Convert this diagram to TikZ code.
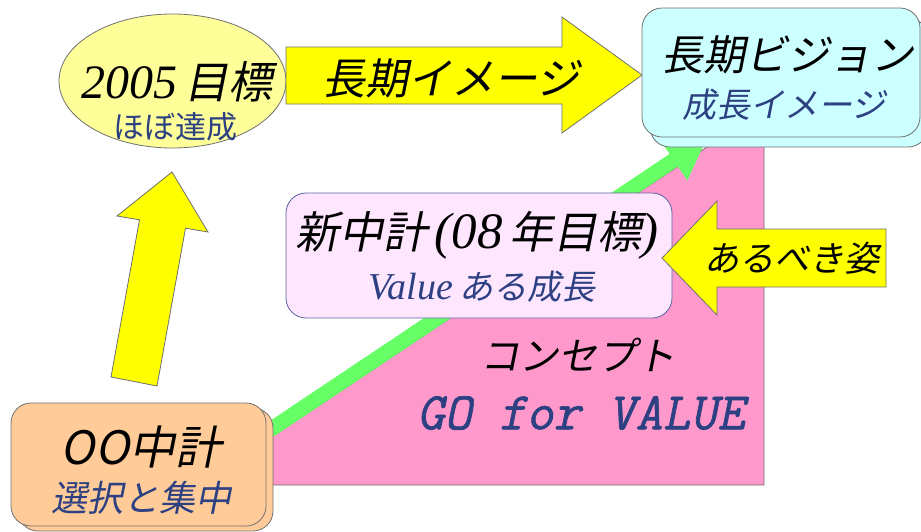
\documentclass[tikz,border=0pt]{standalone}
\usepackage{fontspec}
\usetikzlibrary{arrows.meta,shapes.geometric,shadows}
\newfontfamily\jpfont[FakeSlant=0.2]{Noto Sans CJK JP}
\newfontfamily\jpplain{Noto Sans CJK JP}
\newfontfamily\latinserif{Liberation Serif}
\newfontfamily\slogantt[FakeBold=1.2,FakeSlant=0.2]{Latin Modern Mono}
\definecolor{edgegray}{HTML}{707070}
\definecolor{deepblue}{RGB}{44,64,130}
\definecolor{planorange}{HTML}{FFCC99}
\definecolor{goalyellow}{HTML}{FFFF99}
\definecolor{arrowyellow}{HTML}{FFFF00}
\definecolor{visioncyan}{HTML}{CCFFFF}
\definecolor{midpink}{HTML}{FFE6FF}
\definecolor{midedge}{HTML}{5A64A0}
\definecolor{conceptpink}{HTML}{FF99CC}
\definecolor{growthgreen}{HTML}{66FF66}
\tikzset{
    %Define style for boxes
    planbox/.style={
           rectangle,
           rounded corners=20pt,
           draw=edgegray, line width=0.8pt,
           inner sep=0pt},
    goalnode/.style={
           ellipse,
           fill=goalyellow,
           draw=edgegray, line width=0.8pt,
           inner sep=0pt},
    % Define block arrows
    blockarrow/.style={
           fill=arrowyellow,
           draw=edgegray, line width=0.8pt},
    growtharrow/.style={
           draw=growthgreen,
           line width=15pt,
           -{Triangle[width=46pt,length=40pt]}},
    % Define text styles
    bigtext/.style={
           font=\jpfont\fontsize{42}{46}\selectfont,
           text=black, inner sep=0pt},
    subtext/.style={
           font=\jpfont\fontsize{34}{38}\selectfont,
           text=deepblue, inner sep=0pt}
}
\begin{document}
\begin{tikzpicture}[x=1pt,y=-1pt]
\useasboundingbox (0,0) rectangle (921,531);
 %concept area
\fill[conceptpink, draw=edgegray, line width=0.8pt] (200,485) -- (764,485) -- (764,109) -- cycle;
\coordinate (gstart) at (240,450);
\coordinate (gtip) at (707,138);
\draw[growtharrow] (gstart) -- (gtip);

 %nodes
\node[planbox, fill=midpink, draw=midedge, minimum width=386pt, minimum height=125pt] (mid) at (479,255.5) {};
\draw[blockarrow] (886,229) -- (717,229) -- (717,201) -- (662,258) -- (717,315) -- (717,287) -- (886,287) -- cycle;
\node[planbox, fill=planorange, minimum width=255pt, minimum height=123pt,
      copy shadow={shadow xshift=7pt, shadow yshift=-5pt}] (oo) at (138.5,464.5) {};
\draw[blockarrow] (111,377) -- (139.5,219.8) -- (117,216) -- (172,172) -- (208,232) -- (185.5,228.2) -- (157,386) -- cycle;
\node[goalnode, minimum width=227pt, minimum height=134pt] (goal) at (172.5,81) {};
\draw[blockarrow] (286,47) -- (562,47) -- (562,17) -- (642,75) -- (562,133) -- (562,104) -- (286,104) -- cycle;
\node[planbox, fill=visioncyan, minimum width=278pt, minimum height=129pt,
      copy shadow={shadow xshift=8pt, shadow yshift=-10pt}] (vision) at (781,72.5) {};

 %texts
\node[bigtext, font=\jpfont\fontsize{44}{48}\selectfont] (goaltitle) at (177,82) {{\latinserif\itshape\fontsize{48}{52}\selectfont 2005}\,目標};
\node[subtext, font=\jpplain\fontsize{31}{34}\selectfont] (goalsub) at (175,127) {ほぼ達成};
\node[bigtext, font=\jpfont\fontsize{43}{46}\selectfont] (longimage) at (451,78) {長期イメージ};
\node[bigtext] (visiontitle) at (787,55) {長期ビジョン};
\node[subtext] (visionsub) at (784,105) {成長イメージ};
\node[bigtext, font=\jpfont\fontsize{44}{48}\selectfont] (midtitle) at (477,235) {新中計\,{\latinserif\itshape\fontsize{51}{55}\selectfont (08}\,年目標{\latinserif\itshape\fontsize{51}{55}\selectfont )}};
\node[subtext] (midsub) at (482,287) {{\latinserif\itshape\fontsize{38}{42}\selectfont Value}\,ある成長};
\node[subtext, text=black, font=\jpfont\fontsize{35}{38}\selectfont] (ideal) at (792,258) {あるべき姿};
\node[bigtext, font=\jpfont\fontsize{39}{42}\selectfont] (concept) at (578,355) {コンセプト};
\node[subtext, font=\slogantt\fontsize{53}{56}\selectfont] (slogan) at (581,413) {GO for VALUE};
\node[bigtext, font=\jpfont\fontsize{46}{50}\selectfont] (ootitle) at (141,447.5) {OO中計};
\node[subtext, font=\jpfont\fontsize{36}{40}\selectfont] (oosub) at (141,497.5) {選択と集中};
\end{tikzpicture}
\end{document}
